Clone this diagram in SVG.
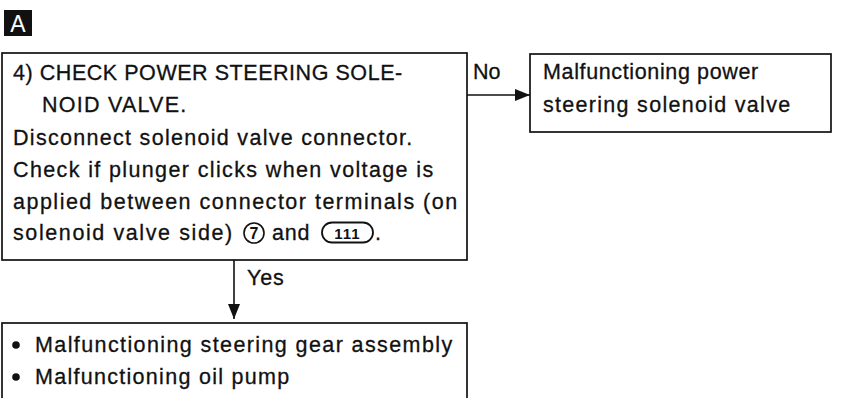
<svg xmlns="http://www.w3.org/2000/svg" width="841" height="398" viewBox="0 0 841 398">
<defs>
<style>
.box{fill:#fff;stroke:#111;stroke-width:1.7}
.t{font-family:"Liberation Sans",Arial,sans-serif;font-size:21.5px;fill:#111;stroke:#111;stroke-width:0.3;letter-spacing:0.8px}
.conn{stroke:#111;stroke-width:1.6;fill:none}
.small{font-family:"Liberation Sans",Arial,sans-serif;font-weight:bold;fill:#111}
</style>
<marker id="ah" markerUnits="userSpaceOnUse" markerWidth="15" markerHeight="12" refX="15" refY="6" orient="auto">
<path d="M0,0 L15,6 L0,12 z" fill="#111"/>
</marker>
</defs>
<rect width="841" height="398" fill="#fff"/>
<g id="label-A">
<rect x="4" y="10" width="28" height="26" fill="#111"/>
<text x="18" y="32" text-anchor="middle" font-family="Liberation Sans,Arial,sans-serif" font-size="23" fill="#fff">A</text>
</g>
<g id="connectors">
<line class="conn" x1="467" y1="95" x2="530" y2="95" marker-end="url(#ah)"/>
<text class="t" x="473" y="79" style="letter-spacing:0">No</text>
<line class="conn" x1="234" y1="260" x2="234" y2="319" marker-end="url(#ah)"/>
<text class="t" x="247" y="285">Yes</text>
</g>
<g id="check-node">
<rect class="box" x="2" y="53" width="465" height="207"/>
<text class="t" x="13" y="80" textLength="390" lengthAdjust="spacing">4) CHECK POWER STEERING SOLE-</text>
<text class="t" x="42" y="112" textLength="145" lengthAdjust="spacing">NOID VALVE.</text>
<text class="t" x="13" y="145" textLength="400" lengthAdjust="spacing">Disconnect solenoid valve connector.</text>
<text class="t" x="13" y="177" textLength="421" lengthAdjust="spacing">Check if plunger clicks when voltage is</text>
<text class="t" x="13" y="209" textLength="445" lengthAdjust="spacing">applied between connector terminals (on</text>
<text class="t" x="13" y="240" textLength="220" lengthAdjust="spacing">solenoid valve side)</text>
<circle cx="254" cy="233" r="10" fill="none" stroke="#111" stroke-width="1.6"/>
<text class="small" x="254" y="239" text-anchor="middle" font-size="16">7</text>
<text class="t" x="272" y="240">and</text>
<rect x="322" y="222.5" width="51" height="20" rx="10" fill="none" stroke="#111" stroke-width="1.8"/>
<text class="small" x="347.5" y="238.5" text-anchor="middle" font-size="15" letter-spacing="1">111</text>
<text class="t" x="375" y="240">.</text>
</g>
<g id="no-node">
<rect class="box" x="530" y="54" width="301" height="78"/>
<text class="t" x="543" y="79" textLength="216" lengthAdjust="spacing">Malfunctioning power</text>
<text class="t" x="543" y="112" textLength="248" lengthAdjust="spacing">steering solenoid valve</text>
</g>
<g id="yes-node">
<rect class="box" x="2" y="323" width="465" height="90"/>
<circle cx="16" cy="345" r="3.8" fill="#111"/>
<text class="t" x="35" y="352" textLength="418" lengthAdjust="spacing">Malfunctioning steering gear assembly</text>
<circle cx="16" cy="377" r="3.8" fill="#111"/>
<text class="t" x="35" y="384" textLength="255" lengthAdjust="spacing">Malfunctioning oil pump</text>
</g>
</svg>
